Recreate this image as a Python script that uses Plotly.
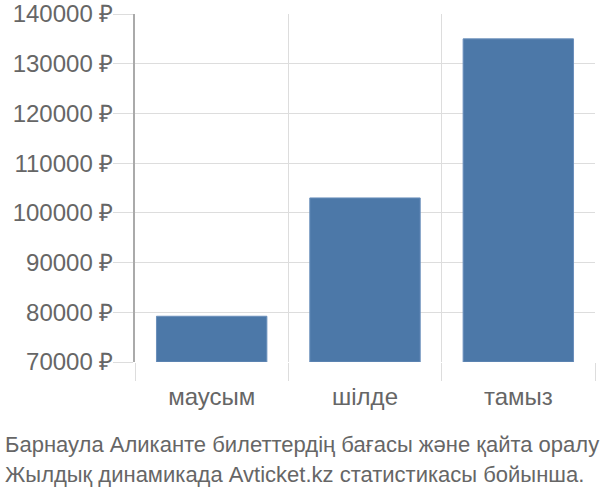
import plotly.graph_objects as go

categories = ["маусым", "шілде", "тамыз"]
prices = [79200, 103000, 135000]
base_value = 70000
tick_values = [70000, 80000, 90000, 100000, 110000, 120000, 130000, 140000]
tick_labels = [f"{v} ₽" for v in tick_values]
caption_lines = [
    "Барнаула Аликанте билеттердің бағасы және қайта оралу",
    "Жылдық динамикада Avticket.kz статистикасы бойынша.",
]

FONT = "Liberation Sans, Arial, sans-serif"
TXT = "#666666"
GRID = "#dddddd"

fig = go.Figure()
fig.add_trace(go.Bar(
    x=categories,
    y=[p - base_value for p in prices],
    base=base_value,
    marker=dict(color="#4c78a8", line=dict(color="#6a8fbb", width=1)),
    width=0.72,
))

L, R, T, B = 135, 5, 14, 138
W, H = 600, 500
pw = W - L - R

fig.update_layout(
    width=W, height=H,
    margin=dict(l=L, r=R, t=T, b=B, pad=0, autoexpand=False),
    paper_bgcolor="white", plot_bgcolor="white",
    showlegend=False,
    font=dict(family=FONT, color=TXT, size=20),
    xaxis=dict(
        type="category",
        automargin=False,
        tickson="boundaries",
        ticks="outside", ticklen=18, tickcolor=GRID, tickwidth=1,
        showgrid=True, gridcolor=GRID, gridwidth=1,
        showline=False, zeroline=False,
        ticklabelstandoff=18,
        tickfont=dict(size=24, color=TXT, family=FONT),
    ),
    yaxis=dict(
        automargin=False,
        range=[70000, 140000],
        tickvals=tick_values, ticktext=tick_labels,
        ticks="outside", ticklen=20, tickcolor=GRID, tickwidth=1,
        showgrid=True, gridcolor=GRID, gridwidth=1,
        showline=True, linecolor="#aaaaaa", linewidth=1.5,
        zeroline=False,
        ticklabelstandoff=-5,
        tickfont=dict(size=24, color=TXT, family=FONT),
    ),
)

for i, line in enumerate(caption_lines):
    fig.add_annotation(
        text=line, xref="paper", yref="paper",
        x=(3 - L) / pw, xanchor="left",
        y=(H - B - (445 + i * 29)) / (H - T - B), yanchor="middle",
        showarrow=False,
        font=dict(size=22, color=TXT, family=FONT),
    )

fig.write_html(
    "out.html",
    config={"displayModeBar": False},
    post_script="document.body.style.margin='0';document.body.style.overflow='hidden';",
)
